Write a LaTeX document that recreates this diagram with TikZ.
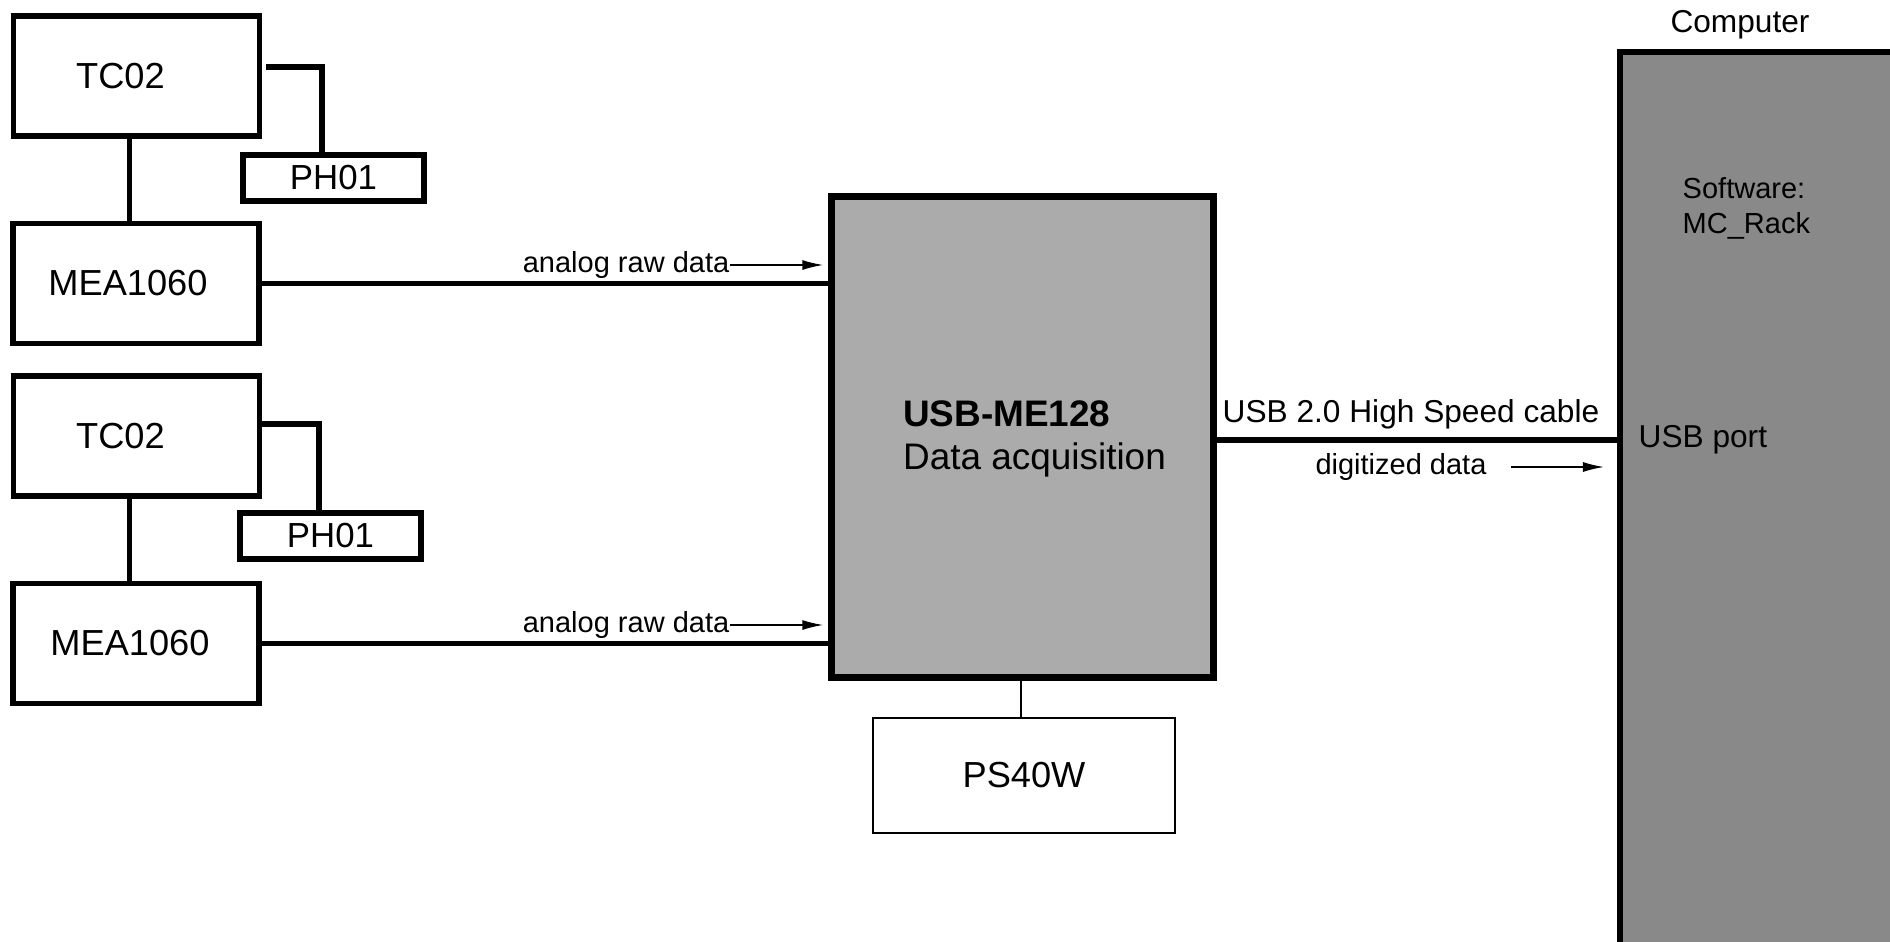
\documentclass[tikz,border=0pt]{standalone}
\usepackage{fontspec}
\setmainfont{Liberation Sans}
\usetikzlibrary{arrows.meta}

\definecolor{daqgray}{HTML}{ABABAB}
\definecolor{pcgray}{HTML}{898989}

\tikzset{
	big/.style={font=\fontsize{10.3}{12}\selectfont},
	mid/.style={font=\fontsize{9}{10.5}\selectfont, inner sep=0pt},
	small/.style={font=\fontsize{8.25}{10}\selectfont, inner sep=0pt},
	unit/.style={draw, big, line width=1.6pt, minimum width=2.46cm, minimum height=1.2cm, inner sep=0pt},
	probe/.style={draw, line width=1.5pt, minimum width=1.81cm, minimum height=0.46cm, inner sep=0pt, font=\fontsize{9.9}{12}\selectfont},
	cable/.style={line width=1.5pt},
	flow/.style={line width=0.45pt, -{Latex[length=0.21cm,width=0.1cm]}},
}

\begin{document}
\begin{tikzpicture}[x=0.01cm, y=-0.01cm]
	\useasboundingbox (0,0) rectangle (1890,942);
	\clip (0,0) rectangle (1890,942);

	\node[unit, label={[big, xshift=-0.16cm]center:TC02}] (tc1) at (136.5,76) {};
	\node[probe] (ph1) at (333.5,178) {PH01};
	\node[unit, label={[big, xshift=-0.08cm]center:MEA1060}] (mea1) at (136,283.5) {};

	\node[unit, label={[big, xshift=-0.16cm]center:TC02}] (tc2) at (136.5,436) {};
	\node[probe] (ph2) at (330.5,536) {PH01};
	\node[unit, label={[big, xshift=-0.06cm]center:MEA1060}] (mea2) at (136,643.5) {};

	\node[draw, line width=2pt, fill=daqgray, minimum width=3.81cm, minimum height=4.8cm,
		label={[font=\fontsize{10.5}{12.3}\selectfont, align=left, xshift=0.12cm, yshift=-0.02cm]center:\textbf{USB-ME128}\\Data acquisition}] (daq) at (1022.5,437) {};
	\node[draw, big, line width=0.7pt, minimum width=3.02cm, minimum height=1.15cm] (ps) at (1024,775.5) {PS40W};

	\node[draw, line width=1.6pt, fill=pcgray, minimum width=3.4cm, minimum height=9.6cm, anchor=north west] (pc) at (1617,49) {};
	\node[mid] (pclabel) at (1740,25) {Computer};
	\node[small, anchor=west, align=left] (sw) at (1682,208) {Software:\\MC\_Rack};
	\node[mid, anchor=west] (port) at (1638,440) {USB port};

	\begin{scope}[cable]
		\draw ([xshift=-0.07cm]tc1.south) -- ([xshift=-0.07cm]tc1.south |- mea1.north);
		\draw ([xshift=0.04cm, yshift=0.09cm]tc1.east) -| ([xshift=-0.115cm]ph1.north);
		\draw (mea1.east) -- (mea1.east -| daq.west);
		\draw ([xshift=-0.07cm]tc2.south) -- ([xshift=-0.07cm]tc2.south |- mea2.north);
		\draw ([yshift=0.12cm]tc2.east) -| ([xshift=-0.115cm]ph2.north);
		\draw (mea2.east) -- (mea2.east -| daq.west);
		\draw ([yshift=-0.03cm]daq.east) -- ([yshift=-0.03cm]daq.east -| pc.west);
	\end{scope}
	\draw[line width=0.6pt] ([xshift=-0.03cm]ps.north |- daq.south) -- ([xshift=-0.03cm]ps.north);

	\node[small, anchor=east] (raw1) at (730,265) {analog raw data};
	\node[small, anchor=east] (raw2) at (730,625) {analog raw data};
	\node[mid] (usbcable) at (1411,414) {USB 2.0 High Speed cable};
	\node[small] (digi) at (1401,467) {digitized data};

	\begin{scope}[flow]
		\draw (raw1.east) -- ([xshift=-0.05cm]raw1.east -| daq.west);
		\draw (raw2.east) -- ([xshift=-0.05cm]raw2.east -| daq.west);
		\draw ([xshift=0.24cm]digi.east) -- ([xshift=-0.13cm]digi.east -| pc.west);
	\end{scope}
\end{tikzpicture}
\end{document}
